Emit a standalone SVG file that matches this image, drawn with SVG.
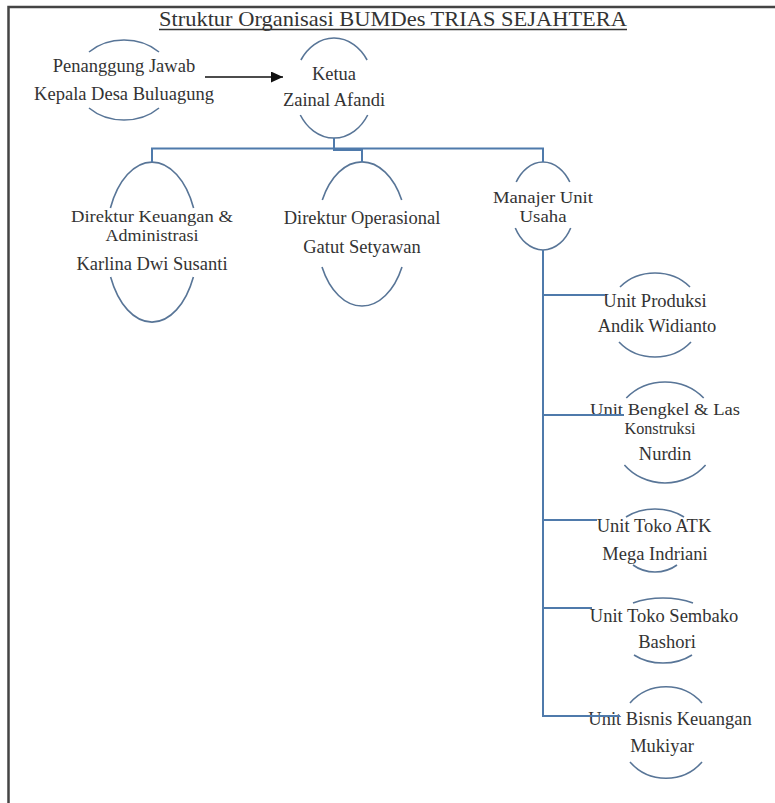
<svg xmlns="http://www.w3.org/2000/svg" width="775" height="803" viewBox="0 0 775 803">
  <style>
    .arc { fill: none; stroke: #587597; stroke-width: 1.6; }
    .conn { fill: none; stroke: #4f7aab; stroke-width: 2; }
    .t { font-family: "Liberation Serif", "Times New Roman", serif; font-size: 18.5px; fill: #333; text-anchor: middle; }
    .tight { font-size: 17.5px; }
    .title { font-family: "Liberation Serif", "Times New Roman", serif; font-size: 21px; fill: #333; text-anchor: middle; }
    .frame { fill: none; stroke: #444; stroke-width: 2.5; }
  </style>
  <defs>
    <marker id="arrow" markerUnits="userSpaceOnUse" markerWidth="13" markerHeight="11" refX="12" refY="5.5" orient="auto">
      <path d="M0,0 L12,5.5 L0,11 Z" fill="#111"/>
    </marker>
  </defs>
  <rect width="775" height="803" fill="#fff"/>
  <path class="frame" d="M8.5,803 V7 H775"/>

  <g id="title">
    <text class="title" x="393" y="26" textLength="468" lengthAdjust="spacingAndGlyphs">Struktur Organisasi BUMDes TRIAS SEJAHTERA</text>
    <line x1="159" y1="29.5" x2="627" y2="29.5" stroke="#333" stroke-width="1.5"/>
  </g>

  <g id="penanggung-jawab">
    <path class="arc" d="M89,52 A49 40 0 0 1 159,52"/>
    <path class="arc" d="M89,108 A49 40 0 0 0 159,108"/>
    <text class="t" x="124" y="72">Penanggung Jawab</text>
    <text class="t" x="124" y="100">Kepala Desa Buluagung</text>
  </g>

  <g id="ketua">
    <path class="arc" d="M300.9,60 A40 50 0 0 1 367.1,60"/>
    <path class="arc" d="M300.3,115 A40 50 0 0 0 367.7,115"/>
    <text class="t" x="334" y="80">Ketua</text>
    <text class="t" x="334" y="106">Zainal Afandi</text>
  </g>

  <g id="direktur-keuangan">
    <path class="arc" d="M110.4,208 A46 80 0 0 1 193.6,208"/>
    <path class="arc" d="M110.6,277 A46 80 0 0 0 193.4,277"/>
    <text class="t tight" x="152" y="222" textLength="162" lengthAdjust="spacingAndGlyphs">Direktur Keuangan &amp;</text>
    <text class="t tight" x="152" y="241" textLength="93" lengthAdjust="spacingAndGlyphs">Administrasi</text>
    <text class="t" x="152" y="270">Karlina Dwi Susanti</text>
  </g>

  <g id="direktur-operasional">
    <path class="arc" d="M322.3,200 A45 72 0 0 1 401.7,200"/>
    <path class="arc" d="M322,267 A45 72 0 0 0 402,267"/>
    <text class="t" x="362" y="224">Direktur Operasional</text>
    <text class="t" x="362" y="253">Gatut Setyawan</text>
  </g>

  <g id="manajer-unit-usaha">
    <path class="arc" d="M516.2,182 A32 44 0 0 1 569.8,182"/>
    <path class="arc" d="M515.3,228 A32 44 0 0 0 570.7,228"/>
    <text class="t tight" x="543" y="203" textLength="100" lengthAdjust="spacingAndGlyphs">Manajer Unit</text>
    <text class="t tight" x="543" y="222" textLength="47" lengthAdjust="spacingAndGlyphs">Usaha</text>
  </g>

  <g id="unit-produksi">
    <path class="arc" d="M620,287 A47 42 0 0 1 690,287"/>
    <path class="arc" d="M619,342 A47 42 0 0 0 691,342"/>
    <text class="t" x="655" y="307">Unit Produksi</text>
    <text class="t" x="657" y="332">Andik Widianto</text>
  </g>

  <g id="unit-bengkel">
    <path class="arc" d="M626.3,398 A53 50.5 0 0 1 703.7,398"/>
    <path class="arc" d="M624.4,465 A53 50.5 0 0 0 705.6,465"/>
    <text class="t tight" x="665" y="415" textLength="150" lengthAdjust="spacingAndGlyphs">Unit Bengkel &amp; Las</text>
    <text class="t tight" x="660" y="434" textLength="71" lengthAdjust="spacingAndGlyphs">Konstruksi</text>
    <text class="t" x="665" y="460">Nurdin</text>
  </g>

  <g id="unit-toko-atk">
    <path class="arc" d="M626,517 A43.5 31.5 0 0 1 684,517"/>
    <path class="arc" d="M633,565 A35 31.5 0 0 0 677,565"/>
    <text class="t" x="654" y="532">Unit Toko ATK</text>
    <text class="t" x="655" y="560">Mega Indriani</text>
  </g>

  <g id="unit-toko-sembako">
    <path class="arc" d="M633,603 A56 32.5 0 0 1 693,603"/>
    <path class="arc" d="M634,655 A44 32.5 0 0 0 692,655"/>
    <text class="t" x="664" y="622">Unit Toko Sembako</text>
    <text class="t" x="667" y="648">Bashori</text>
  </g>

  <g id="unit-bisnis-keuangan">
    <path class="arc" d="M630,703 A47 45.5 0 0 1 702,703"/>
    <path class="arc" d="M630,762 A47 45.5 0 0 0 702,762"/>
    <text class="t" x="670" y="725">Unit Bisnis Keuangan</text>
    <text class="t" x="662" y="752">Mukiyar</text>
  </g>

  <g id="connectors">
    <line x1="205" y1="77" x2="283" y2="77" stroke="#111" stroke-width="1.6" marker-end="url(#arrow)"/>
    <path class="conn" d="M334,138 V150 H362 V162"/>
    <path class="conn" d="M152,162 V148.5 H543 V162"/>
    <path class="conn" d="M543,250 V716 H620"/>
    <path class="conn" d="M543,295 H605"/>
    <path class="conn" d="M543,415 H624"/>
    <path class="conn" d="M543,520 H597"/>
    <path class="conn" d="M543,608 H592"/>
  </g>
</svg>
